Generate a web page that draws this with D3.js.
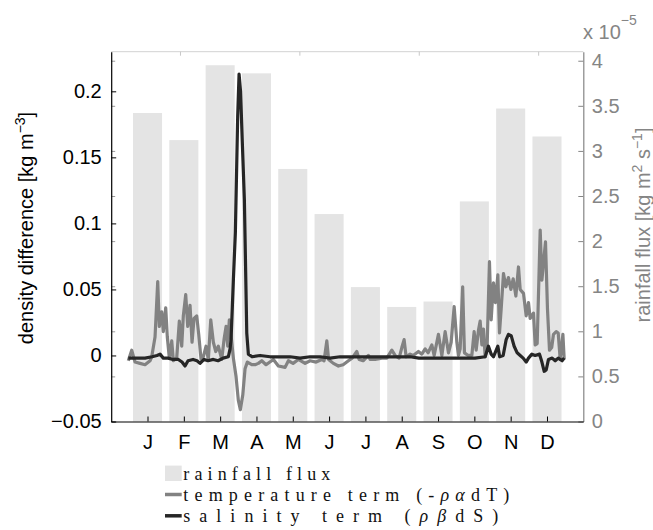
<!DOCTYPE html>
<html><head><meta charset="utf-8">
<script src="https://cdn.jsdelivr.net/npm/d3@7/dist/d3.min.js"></script>
<style>
html,body{margin:0;padding:0;background:#fff;}
svg{display:block;}
</style></head>
<body>
<svg id="chart" width="653" height="530"></svg>
<script>
// ---------------- data ----------------
const months = ['J','F','M','A','M','J','J','A','S','O','N','D'];
// monthly rainfall flux, units of 1e-5 kg m^2 s^-1
const rainfall = [3.42, 3.12, 3.95, 3.86, 2.80, 2.30, 1.49, 1.27, 1.33, 2.44, 3.47, 3.16];
const leftTicks = [-0.05, 0, 0.05, 0.1, 0.15, 0.2];
const leftTickLabels = ['\u22120.05', '0', '0.05', '0.1', '0.15', '0.2'];
const rightTicks = [0, 0.5, 1, 1.5, 2, 2.5, 3, 3.5, 4];
const rightTickLabels = ['0', '0.5', '1', '1.5', '2', '2.5', '3', '3.5', '4'];
const topTickDays = [100, 200, 300, 400];

// temperature term (-rho alpha dT), time in month units (1 = mid January)
const tempMonth = [0.471,0.565,0.656,0.793,0.931,1.069,1.116,1.207,1.281,1.325,1.391,1.435,1.501,1.545,1.601,1.667,1.711,1.804,1.876,1.942,1.986,2.052,2.107,2.171,2.226,2.281,2.355,2.410,2.474,2.537,2.612,2.675,2.741,2.813,2.879,2.950,3.044,3.107,3.163,3.209,3.253,3.320,3.364,3.438,3.501,3.556,3.623,3.686,3.749,3.871,3.961,4.052,4.146,4.264,4.466,4.603,4.788,4.879,5.008,5.154,5.339,5.477,5.642,5.799,5.862,5.937,5.986,6.118,6.256,6.386,6.532,6.634,6.763,6.826,6.937,7.083,7.129,7.267,7.452,7.590,7.727,7.818,7.928,8.003,8.066,8.121,8.231,8.314,8.460,8.554,8.645,8.727,8.829,8.893,9.011,9.105,9.196,9.287,9.361,9.444,9.518,9.562,9.609,9.678,9.727,9.829,9.931,9.994,10.05,10.113,10.160,10.207,10.251,10.298,10.353,10.416,10.463,10.526,10.581,10.647,10.692,10.738,10.802,10.868,10.939,11.006,11.069,11.143,11.215,11.262,11.353,11.427,11.491,11.537,11.628,11.675,11.730,11.813,11.860,11.904,11.959,12.014,12.069,12.130,12.179,12.253,12.309,12.364,12.438,12.474];
const tempValue = [-0.004,0.004,-0.005,-0.006,-0.007,-0.004,-0.001,0.014,0.056,0.022,0.033,0.018,0.036,0.014,-0.002,0.011,-0.004,-0.002,0.026,0.007,0.030,0.046,0.022,0.038,0.010,0.028,0.030,0.016,-0.003,-0.001,0.007,-0.003,0.027,0.010,0.003,0.007,-0.003,0.012,0.022,0.007,0.027,0.010,-0.002,-0.016,-0.034,-0.041,-0.030,-0.010,-0.005,-0.007,-0.007,-0.006,-0.004,-0.007,-0.003,-0.008,-0.009,-0.004,-0.006,-0.003,-0.006,-0.004,-0.005,-0.003,-0.004,0.011,-0.003,-0.006,-0.008,-0.007,-0.004,-0.002,0.003,-0.003,-0.004,0.000,-0.003,-0.003,-0.002,-0.002,0.004,0.000,-0.002,0.006,0.012,-0.001,0.001,0.000,0.003,0.001,0.005,0.002,0.008,0.000,0.016,0.000,0.018,0.002,0.010,0.037,0.010,0.000,0.005,0.052,0.002,0.000,0.000,0.018,0.004,0.019,0.026,0.008,0.020,-0.001,0.008,0.071,0.027,0.055,0.040,0.061,0.017,0.035,0.062,0.052,0.059,0.050,0.058,0.045,0.067,0.050,0.047,0.030,0.040,0.028,0.032,0.008,0.009,0.095,0.057,0.070,0.086,0.035,0.004,0.006,0.016,0.018,0.017,-0.003,0.016,-0.003];

// salinity term (rho beta dS)
const salMonth = [0.471,0.656,0.931,1.124,1.262,1.344,1.435,1.565,1.702,1.849,1.950,2.033,2.116,2.253,2.364,2.446,2.556,2.667,2.813,2.942,3.080,3.226,3.273,3.300,3.336,3.364,3.419,3.483,3.521,3.562,3.612,3.667,3.733,3.777,3.879,4.099,4.375,4.650,4.926,5.201,5.477,5.752,6.028,6.303,6.579,6.854,7.129,7.405,7.680,7.956,8.231,8.474,9.056,9.607,10.019,10.298,10.388,10.463,10.526,10.647,10.697,10.793,10.876,10.939,11.014,11.096,11.179,11.262,11.344,11.427,11.491,11.584,11.675,11.794,11.860,11.923,11.978,12.041,12.143,12.226,12.309,12.416,12.474];
const salValue = [-0.002,-0.002,-0.002,-0.001,0.000,0.001,-0.002,-0.002,-0.003,-0.003,-0.005,-0.008,-0.004,-0.003,-0.004,-0.006,-0.003,-0.004,-0.003,-0.004,-0.002,-0.001,0.005,0.012,0.037,0.057,0.093,0.181,0.213,0.200,0.160,0.118,0.017,0.001,-0.001,0.000,-0.001,-0.001,-0.001,-0.002,-0.001,-0.001,-0.002,-0.001,-0.001,-0.001,-0.001,-0.001,-0.001,-0.001,-0.001,-0.002,-0.002,-0.002,-0.002,-0.001,0.007,0.001,-0.001,0.007,-0.001,0.000,0.012,0.016,0.015,0.007,0.002,0.000,-0.002,-0.005,-0.002,0.001,0.000,0.001,-0.005,-0.012,-0.011,-0.003,-0.002,-0.004,-0.002,-0.004,-0.002];

const legendItems = [
  {type:'bar',  parts:[{t:'rainfall flux'}]},
  {type:'temp', parts:[{t:'temperature term (-'},{t:'\u03C1\u03B1',i:true},{t:'dT)'}]},
  {type:'sal',  parts:[{t:'salinity term ('},{t:'\u03C1\u03B2',i:true},{t:'dS)'}]}
];

// ---------------- layout ----------------
const L = 111.2, R = 583.3, T = 51.7, B = 421.5;
const barColor = '#e4e4e4', tempColor = '#828282', salColor = '#262626', rightColor = '#858585';
const sansFont = "'Liberation Sans', Arial, Helvetica, sans-serif";
const serifFont = "'Liberation Serif', 'Times New Roman', serif";

const svg = d3.select('#chart');
const x = d3.scaleLinear().domain([0, 13]).range([L, R]);
const xDays = d3.scaleLinear().domain([42.4, 42.4 + 13 * 365 / 12]).range([L, R]);
const yL = d3.scaleLinear().domain([-0.05, 0.23]).range([B, T]);
const yR = d3.scaleLinear().domain([0, 4.1]).range([B, T]);

svg.append('clipPath').attr('id','clip').append('rect')
  .attr('x', L).attr('y', T).attr('width', R - L).attr('height', B - T);

// bars
const barW = x(0.8) - x(0);
svg.append('g').selectAll('rect').data(rainfall).join('rect')
  .attr('x', (d, i) => x(i + 1) - barW / 2)
  .attr('width', barW)
  .attr('y', d => yR(d))
  .attr('height', d => yR(0) - yR(d))
  .attr('fill', barColor);

// lines
const lineL = d3.line().x(d => x(d[0])).y(d => yL(d[1]));
const tempData = tempMonth.map((m, i) => [m, tempValue[i]]);
const salData = salMonth.map((m, i) => [m, salValue[i]]);
const lg = svg.append('g').attr('clip-path', 'url(#clip)');
lg.append('path').datum(tempData).attr('d', lineL)
  .attr('fill','none').attr('stroke', tempColor).attr('stroke-width', 3.2).attr('stroke-linejoin','round');
lg.append('path').datum(salData).attr('d', lineL)
  .attr('fill','none').attr('stroke', salColor).attr('stroke-width', 3.2).attr('stroke-linejoin','round');

// top border (second axes box)
svg.append('line').attr('x1', L).attr('x2', R).attr('y1', T).attr('y2', T)
  .attr('stroke', '#d2d2d2').attr('stroke-width', 1);
const topAx = svg.append('g').attr('transform', `translate(0,${T})`)
  .call(d3.axisTop(xDays).tickValues(topTickDays).tickSize(-4).tickFormat(''));
topAx.select('.domain').remove();
topAx.selectAll('line').attr('stroke', '#c8c8c8');

// mirrored right-axis ticks on the left
const mirror = svg.append('g').attr('transform', `translate(${L},0)`)
  .call(d3.axisRight(yR).tickValues(rightTicks).tickSize(4).tickFormat(''));
mirror.select('.domain').remove();
mirror.selectAll('line').attr('stroke', '#9a9a9a');

// left axis
const axL = svg.append('g').attr('transform', `translate(${L},0)`)
  .call(d3.axisLeft(yL).tickValues(leftTicks).tickSizeInner(-5).tickSizeOuter(0).tickPadding(9.5)
    .tickFormat((d, i) => leftTickLabels[i]));
axL.select('.domain').attr('stroke', '#000').attr('stroke-width', 1.2);
axL.selectAll('line').attr('stroke', '#000');
axL.selectAll('text').attr('font-family', sansFont).attr('font-size', 20).attr('fill', '#000');

// right axis
const axR = svg.append('g').attr('transform', `translate(${R},0)`)
  .call(d3.axisRight(yR).tickValues(rightTicks).tickSizeInner(-5).tickSizeOuter(0).tickPadding(8.5)
    .tickFormat((d, i) => rightTickLabels[i]));
axR.select('.domain').attr('stroke', rightColor).attr('stroke-width', 1.2);
axR.selectAll('line').attr('stroke', rightColor);
axR.selectAll('text').attr('font-family', sansFont).attr('font-size', 20).attr('fill', rightColor);

// bottom axis
const axB = svg.append('g').attr('transform', `translate(0,${B})`)
  .call(d3.axisBottom(x).tickValues(d3.range(1, 13)).tickSizeInner(-5).tickSizeOuter(0).tickPadding(13.5)
    .tickFormat((d, i) => months[i]));
axB.select('.domain').attr('stroke', '#000').attr('stroke-width', 1.2);
axB.selectAll('line').attr('stroke', '#000');
axB.selectAll('text').attr('font-family', sansFont).attr('font-size', 20).attr('fill', '#000');

// axis labels
const ylab = svg.append('text').attr('transform', 'translate(33,228) rotate(-90)')
  .attr('text-anchor', 'middle').attr('font-family', sansFont).attr('font-size', 20).attr('fill', '#000');
ylab.append('tspan').text('density difference [kg m');
ylab.append('tspan').attr('font-size', 14).attr('dy', -8).text('\u22123');
ylab.append('tspan').attr('dy', 8).text(']');

const rlab = svg.append('text').attr('transform', 'translate(650,225) rotate(-90)')
  .attr('text-anchor', 'middle').attr('font-family', sansFont).attr('font-size', 20).attr('fill', rightColor);
rlab.append('tspan').text('rainfall flux [kg m');
rlab.append('tspan').attr('font-size', 14).attr('dy', -8).text('2');
rlab.append('tspan').attr('dy', 8).text(' s');
rlab.append('tspan').attr('font-size', 14).attr('dy', -8).text('\u22121');
rlab.append('tspan').attr('dy', 8).text(']');

const exp = svg.append('text').attr('x', 583).attr('y', 39.3)
  .attr('font-family', sansFont).attr('font-size', 20).attr('fill', rightColor);
exp.append('tspan').text('x 10');
exp.append('tspan').attr('font-size', 14).attr('dy', -14).text('\u22125');

// legend
const legX = 165, legW = 16.7, legTextX = 183.3;
const rowY = [473.3, 494.5, 515.8];
const textLens = [147, 326, 315];
legendItems.forEach((it, i) => {
  const cy = rowY[i];
  if (it.type === 'bar') {
    svg.append('rect').attr('x', legX).attr('y', cy - 7.7).attr('width', legW).attr('height', 15.4).attr('fill', barColor);
  } else {
    svg.append('line').attr('x1', legX).attr('x2', legX + legW).attr('y1', cy).attr('y2', cy)
      .attr('stroke', it.type === 'temp' ? tempColor : salColor).attr('stroke-width', 3.5);
  }
  const t = svg.append('text').attr('x', legTextX).attr('y', cy + 6.5)
    .attr('font-family', serifFont).attr('font-size', 18).attr('fill', '#111')
    .attr('textLength', textLens[i]).attr('lengthAdjust', 'spacing');
  it.parts.forEach(p => {
    const s = t.append('tspan').text(p.t);
    if (p.i) s.attr('font-style', 'italic');
  });
});
</script>
</body></html>
